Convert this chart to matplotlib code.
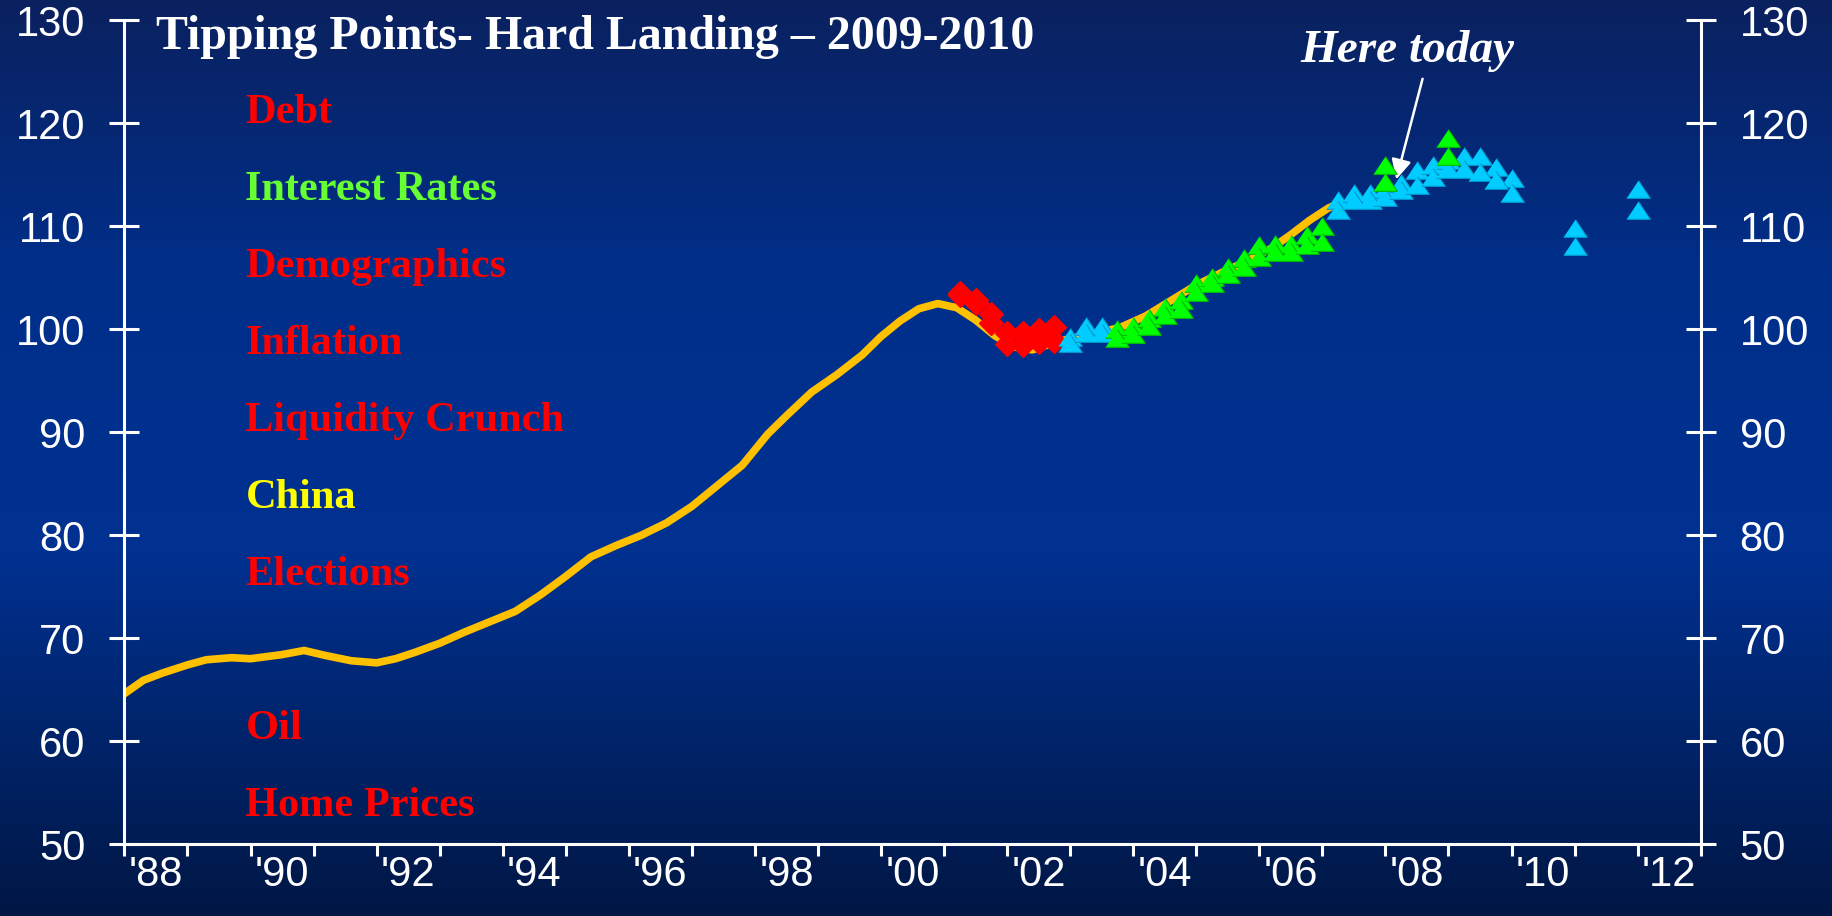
import numpy as np
import matplotlib.pyplot as plt
from matplotlib.colors import LinearSegmentedColormap

# index line (decimal years)
line_x = [1988.0, 1988.3, 1988.6, 1989.0, 1989.3, 1989.7, 1990.0, 1990.5, 1990.85,
          1991.2, 1991.6, 1992.0, 1992.3, 1992.6, 1993.0, 1993.4, 1993.8, 1994.2,
          1994.6, 1995.0, 1995.4, 1995.8, 1996.2, 1996.6, 1997.0, 1997.4, 1997.8,
          1998.2, 1998.5, 1998.9, 1999.3, 1999.7, 2000.0, 2000.3, 2000.6, 2000.9,
          2001.2, 2001.5, 2001.8, 2002.1, 2002.4, 2002.7, 2003.0, 2003.4, 2003.8,
          2004.2, 2004.6, 2005.0, 2005.4, 2005.8, 2006.2, 2006.5, 2006.8, 2007.1, 2007.3]
line_y = [64.6, 65.9, 66.6, 67.4, 67.9, 68.1, 68.0, 68.4, 68.8,
          68.3, 67.8, 67.6, 68.0, 68.6, 69.5, 70.6, 71.6, 72.6,
          74.2, 76.0, 77.9, 79.0, 80.0, 81.2, 82.8, 84.8, 86.8,
          89.8, 91.6, 93.9, 95.6, 97.5, 99.3, 100.8, 102.0, 102.5,
          102.1, 100.9, 99.4, 98.3, 98.0, 98.6, 99.1, 99.6, 100.2,
          101.3, 102.8, 104.3, 105.5, 106.6, 107.9, 109.2, 110.6, 111.8, 112.3]

# forecast markers: two readings per quarter
red_x = [2001.25, 2001.5, 2001.75, 2002.0, 2002.25, 2002.5, 2002.75]
red_hi = [103.5, 102.8, 101.5, 99.6, 99.6, 99.9, 100.2]
red_lo = [103.3, 102.6, 100.6, 98.6, 98.5, 98.8, 98.9]

green_x = [2003.75, 2004.0, 2004.25, 2004.5, 2004.75, 2005.0, 2005.25, 2005.5,
           2005.75, 2006.0, 2006.25, 2006.5, 2006.75, 2007.0, 2008.0, 2009.0]
green_hi = [100.0, 100.3, 101.1, 102.2, 102.8, 104.5, 105.1, 106.1,
            106.9, 108.2, 108.3, 108.3, 109.2, 110.0, 116.0, 118.6]
green_lo = [99.2, 99.5, 100.3, 101.4, 102.0, 103.6, 104.5, 105.4,
            106.1, 107.0, 107.5, 107.5, 108.2, 108.5, 114.3, 116.8]

cyan_x = [2003.0, 2003.25, 2003.5, 2007.25, 2007.5, 2007.75, 2008.0, 2008.25,
          2008.5, 2008.75, 2009.0, 2009.25, 2009.5, 2009.75, 2010.0, 2011.0, 2012.0]
cyan_hi = [99.3, 100.3, 100.3, 112.6, 113.2, 113.2, 113.6, 114.2,
           115.5, 116.0, 116.4, 116.8, 116.8, 115.8, 114.7, 109.8, 113.6]
cyan_lo = [98.7, 99.6, 99.6, 111.6, 112.6, 112.6, 112.9, 113.5,
           114.0, 114.8, 115.6, 115.6, 115.3, 114.5, 113.2, 108.1, 111.6]

year_ticks = list(range(1988, 2014))
label_pos = [1988.5, 1990.5, 1992.5, 1994.5, 1996.5, 1998.5, 2000.5,
             2002.5, 2004.5, 2006.5, 2008.5, 2010.5, 2012.5]
label_txt = ["'88", "'90", "'92", "'94", "'96", "'98", "'00",
             "'02", "'04", "'06", "'08", "'10", "'12"]

factors = ['Debt', 'Interest Rates', 'Demographics', 'Inflation', 'Liquidity Crunch',
           'China', 'Elections', '', 'Oil', 'Home Prices']
factor_colors = ['#ff0000', '#66ff33', '#ff0000', '#ff0000', '#ff0000',
                 '#ffff00', '#ff0000', '#ff0000', '#ff0000', '#ff0000']

W, H = 1833, 916
fig = plt.figure(figsize=(W / 100, H / 100), dpi=100)

# background gradient
bg = fig.add_axes([0, 0, 1, 1], zorder=-10)
cmap = LinearSegmentedColormap.from_list('bg', [(0.0, '#0a215f'), (0.3, '#002f8a'),
                                                (0.6, '#003191'), (1.0, '#001745')])
bg.imshow(np.linspace(0, 1, 256).reshape(-1, 1), aspect='auto', cmap=cmap,
          extent=[0, 1, 0, 1], origin='upper')
bg.axis('off')

ax = fig.add_axes([124.4 / W, 1 - 844 / H, (1700.7 - 124.4) / W, (844 - 20.5) / H])
ax.set_facecolor('none')

ax.plot(line_x, line_y, color='#ffc000', lw=5.5, solid_capstyle='round',
        solid_joinstyle='round', zorder=2)

tri = [(-1, -0.75), (1, -0.75), (0, 0.75)]
ax.plot(red_x, red_hi, ls='none', marker='D', ms=12, color='#ff0000', mec='#ff0000', zorder=3)
ax.plot(red_x, red_lo, ls='none', marker='D', ms=12, color='#ff0000', mec='#ff0000', zorder=3)
ax.plot(cyan_x, cyan_hi, ls='none', marker=tri, ms=17, color='#00ccff', mec='#0099cc', mew=0.8, zorder=4)
ax.plot(cyan_x, cyan_lo, ls='none', marker=tri, ms=17, color='#00ccff', mec='#0099cc', mew=0.8, zorder=4)
ax.plot(green_x, green_hi, ls='none', marker=tri, ms=17, color='#00ff00', mec='#00bb00', mew=0.8, zorder=5)
ax.plot(green_x, green_lo, ls='none', marker=tri, ms=17, color='#00ff00', mec='#00bb00', mew=0.8, zorder=5)

ax.set_xlim(1988, 2013)
ax.set_ylim(50, 130)
ax.set_yticks(range(50, 131, 10))
ax.set_xticks(year_ticks)
ax.set_xticklabels([])
ax.set_xticks(label_pos, label_txt, minor=True)

for s in ['left', 'right', 'bottom']:
    ax.spines[s].set_color('white')
    ax.spines[s].set_linewidth(2.2)
ax.spines['top'].set_visible(False)

ax.tick_params(axis='x', which='major', direction='out', length=8.5, width=2.2, color='white')
ax.tick_params(axis='x', which='minor', length=0, pad=8, labelsize=30, labelcolor='white')
ax.tick_params(axis='y', direction='inout', length=22, width=2.2, color='white',
               left=True, right=True, labelleft=True, labelright=True,
               labelsize=30, labelcolor='white', pad=17)
for lab in ax.get_xticklabels(minor=True) + ax.get_yticklabels():
    lab.set_fontfamily('Liberation Sans')

serif = 'Liberation Serif'
fig.text(156 / W, 1 - 49 / H, 'Tipping Points- Hard Landing \u2013 2009-2010', color='white',
         fontsize=34.5, fontweight='bold', family=serif, va='baseline', ha='left')

for i, (name, c) in enumerate(zip(factors, factor_colors)):
    fig.text(245.5 / W, 1 - (123 + 77 * i) / H, name, color=c, fontsize=30.5,
             fontweight='bold', family=serif, va='baseline', ha='left')

ax.text(2008.35, 126.0, 'Here today', color='white', fontsize=34, fontweight='bold',
        fontstyle='italic', family=serif, ha='center', va='baseline')
ax.annotate('', xy=(2008.16, 114.3), xytext=(2008.6, 124.6),
            arrowprops=dict(arrowstyle='-|>', color='white', lw=1.8, mutation_scale=30))

fig.savefig('out.png', dpi=100)
